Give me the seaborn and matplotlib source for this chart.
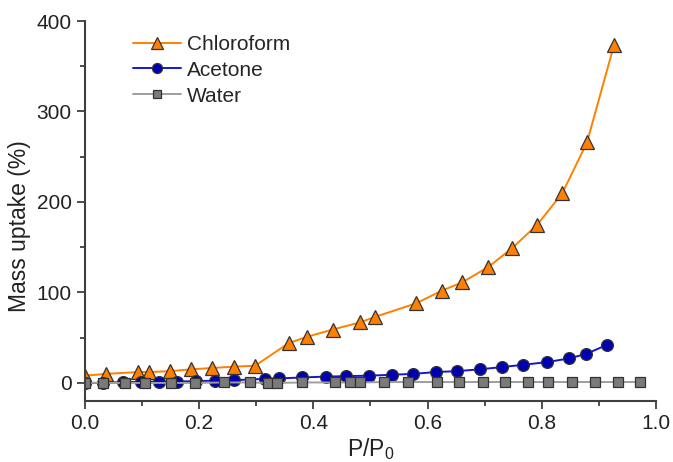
import numpy as np
import pandas as pd
import seaborn as sns
import matplotlib.pyplot as plt
from matplotlib.ticker import MultipleLocator

# chloroform uptake
chloro_x = [0.0, 0.037, 0.093, 0.112, 0.149, 0.186, 0.223, 0.261, 0.298, 0.357, 0.389,
            0.434, 0.482, 0.508, 0.580, 0.625, 0.660, 0.706, 0.748, 0.792, 0.836, 0.879, 0.926]
chloro_y = [8, 10, 12, 12, 13, 15, 16.5, 18, 19, 44, 51,
            59, 67, 73, 88, 102, 111, 128, 149, 175, 210, 266, 373]

# acetone
acet_x = [0.0, 0.032, 0.066, 0.098, 0.130, 0.162, 0.195, 0.228, 0.261, 0.315, 0.340, 0.380,
          0.422, 0.457, 0.497, 0.537, 0.575, 0.614, 0.651, 0.691, 0.730, 0.767, 0.809,
          0.847, 0.877, 0.914]
acet_y = [0, 0, 1, 1, 1.5, 1.5, 2, 2.5, 3, 4.5, 5, 6,
          7, 7.5, 8, 9, 10, 12, 13, 15, 17.5, 20, 23,
          27, 32, 42]

# water
water_x = [0.0, 0.032, 0.070, 0.105, 0.150, 0.193, 0.243, 0.289, 0.320, 0.336, 0.380,
           0.438, 0.464, 0.482, 0.524, 0.566, 0.616, 0.655, 0.697, 0.736, 0.776,
           0.811, 0.853, 0.893, 0.933, 0.972]
water_y = [0, 0, 0, 0, 0, 0, 0.5, 0.5, 0, 0, 0.5,
           0.5, 0.5, 0.5, 1, 1, 1, 1, 1, 1, 1,
           1, 1, 1, 1, 1]

sns.set_style("ticks")
plt.rcParams['font.family'] = ['Liberation Sans', 'DejaVu Sans']
plt.rcParams['mathtext.default'] = 'regular'

fig = plt.figure(figsize=(6.73, 4.62), dpi=100)
ax = fig.add_axes([0.126, 0.132, 0.849, 0.8225])

series = [
    ("Chloroform", chloro_x, chloro_y, "^", "#FF8000", "#FF7F00", 9.5),
    ("Acetone", acet_x, acet_y, "o", "#1515D8", "#0000B0", 8.5),
    ("Water", water_x, water_y, "s", "#9E9E9E", "#7A7A7A", 7),
]
for name, xs, ys, mk, lc, fc, ms in series:
    df = pd.DataFrame({"p": xs, "uptake": ys})
    sns.lineplot(data=df, x="p", y="uptake", ax=ax, color=lc, lw=1.4,
                 marker=mk, markersize=ms, markerfacecolor=fc,
                 markeredgecolor="#333333", markeredgewidth=0.9, label=name)

ax.set_xlim(0, 1.0)
ax.set_ylim(-20, 400)
ax.xaxis.set_major_locator(MultipleLocator(0.2))
ax.xaxis.set_minor_locator(MultipleLocator(0.1))
ax.yaxis.set_major_locator(MultipleLocator(100))
ax.yaxis.set_minor_locator(MultipleLocator(50))
ax.tick_params(which="major", direction="out", length=6, width=1.3,
               color="#404040", labelsize=15, labelcolor="#222222")
ax.tick_params(which="minor", direction="out", length=3.5, width=1.3, color="#404040")
for s in ["left", "bottom"]:
    ax.spines[s].set_color("#404040")
    ax.spines[s].set_linewidth(1.5)
sns.despine(ax=ax)

ax.set_xlabel(r"P/P$_\mathregular{0}$", fontsize=16.5, color="#222222", labelpad=2)
ax.set_ylabel("Mass uptake (%)", fontsize=16.5, color="#222222")
ax.yaxis.set_label_coords(-0.094, 0.46)

leg = ax.legend(loc="upper left", bbox_to_anchor=(0.051, 1.013), frameon=False,
                fontsize=15, handlelength=2.3, handletextpad=0.3, labelspacing=0.33,
                markerscale=0.85)

fig.savefig("out.png", dpi=100)
